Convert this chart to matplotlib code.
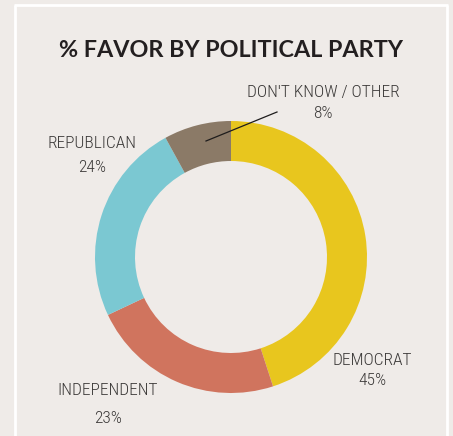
import matplotlib
matplotlib.use("Agg")
import matplotlib.pyplot as plt
from matplotlib import font_manager

# Party shares (percent), clockwise from 12 o'clock
parties = ["DEMOCRAT", "INDEPENDENT", "REPUBLICAN", "DON'T KNOW / OTHER"]
shares = [45, 23, 24, 8]
colors = ["#e8c61e", "#d0745e", "#7bc8d2", "#8b7a67"]
title = "% FAVOR BY POLITICAL PARTY"

W, H = 453, 436
BG = "#efebe8"
INK = "#3b3938"


def pick_family(candidates):
    names = {f.name for f in font_manager.fontManager.ttflist}
    for c in candidates:
        if c in names:
            return c
    return "DejaVu Sans"


label_family = pick_family(["Roboto Condensed", "Liberation Sans Narrow", "DejaVu Serif"])
title_family = pick_family(["Lato", "Open Sans", "Inter"])

fig = plt.figure(figsize=(W / 100, H / 100), dpi=100, facecolor=BG)
ax = fig.add_axes([0, 0, 1, 1])
ax.set_facecolor(BG)


def py(y):
    # top-down pixel row -> data y
    return H - y


cx, cy, R, ring = 231, py(257), 136, 40
ax.pie(shares, colors=colors, startangle=90, counterclock=False,
       radius=R, center=(cx, cy),
       wedgeprops=dict(width=ring, linewidth=0))
ax.set_xlim(0, W)
ax.set_ylim(0, H)
ax.set_aspect("auto")
ax.axis("off")

# white frame open at the bottom
frame_kw = dict(color="white", lw=2.0, solid_capstyle="butt", zorder=1)
ax.plot([15, 15], [py(5), 0], **frame_kw)
ax.plot([447, 447], [py(5), 0], **frame_kw)
ax.plot([14, 448], [py(5), py(5)], **frame_kw)

ax.text(231, py(51), title, ha="center", va="center", fontsize=16.8,
        fontweight="bold", color="#231f20", family=title_family)

label_pos = {
    "DEMOCRAT": (372, 360, 380),
    "INDEPENDENT": (108, 390, 418),
    "REPUBLICAN": (92, 143, 168),
    "DON'T KNOW / OTHER": (323, 93, 113),
}
for name, val in zip(parties, shares):
    x, y1, y2 = label_pos[name]
    kw = dict(ha="center", va="center", fontsize=12.5, color=INK,
              family=label_family, fontweight="light")
    ax.text(x, py(y1), name, **kw)
    ax.text(x, py(y2), f"{val}%", **kw)

# leader line for the small slice
ax.plot([206, 277], [py(141), py(112)], color="#1e1c1c", lw=0.9, zorder=5)

fig.savefig("out.png", dpi=100, facecolor=BG)
